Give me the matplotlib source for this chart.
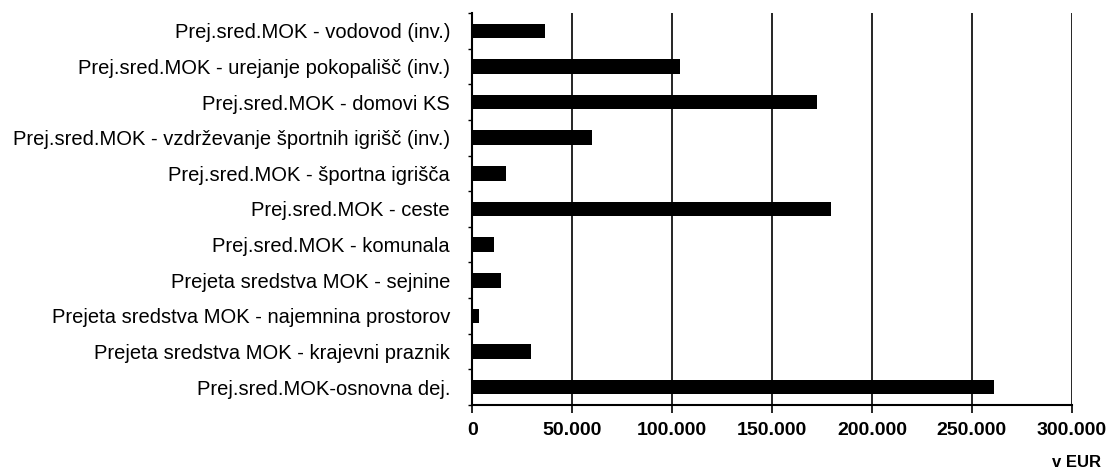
import matplotlib
matplotlib.use("Agg")
import matplotlib.pyplot as plt
from matplotlib.ticker import FuncFormatter, FixedLocator
import numpy as np

categories = [
    "Prej.sred.MOK - vodovod (inv.)",
    "Prej.sred.MOK - urejanje pokopališč (inv.)",
    "Prej.sred.MOK - domovi KS",
    "Prej.sred.MOK - vzdrževanje športnih igrišč (inv.)",
    "Prej.sred.MOK - športna igrišča",
    "Prej.sred.MOK - ceste",
    "Prej.sred.MOK - komunala",
    "Prejeta sredstva MOK - sejnine",
    "Prejeta sredstva MOK - najemnina prostorov",
    "Prejeta sredstva MOK - krajevni praznik",
    "Prej.sred.MOK-osnovna dej.",
]
values = [36600, 104000, 172500, 60000, 16900, 179500, 11000, 14500, 3400, 29500, 261000]
xticks = [0, 50000, 100000, 150000, 200000, 250000, 300000]
unit_label = "v EUR"

plt.rcParams['font.family'] = ['Liberation Sans', 'DejaVu Sans']

fig = plt.figure(figsize=(11.11, 4.73), dpi=100)
ax = fig.add_axes([0.4251, 0.1438, 0.5395, 0.8287])

y = np.arange(len(categories))
ax.barh(y, values, height=0.41, color="black", zorder=3)
ax.set_ylim(len(categories) - 0.5, -0.5)
ax.set_xlim(0, 300000)

ax.set_xticks(xticks)
ax.xaxis.set_major_formatter(FuncFormatter(lambda v, p: f"{int(v):,}".replace(",", ".")))
for lab in ax.get_xticklabels():
    lab.set_fontweight("bold")
ax.tick_params(axis="x", labelsize=14, length=6, width=1.2, pad=6, direction="out")

ax.set_yticks(y)
ax.set_yticklabels(categories, fontsize=14.5)
ax.tick_params(axis="y", length=0, pad=16)
ax.yaxis.set_minor_locator(FixedLocator(np.arange(-0.5, len(categories), 1.0)))
ax.tick_params(axis="y", which="minor", length=3, width=1, direction="out")

ax.grid(axis="x", color="black", linewidth=1.2, zorder=1)
for s in ["top", "right"]:
    ax.spines[s].set_visible(False)
ax.spines["left"].set_linewidth(1.5)
ax.spines["bottom"].set_linewidth(1.5)

fig.text(1101 / 1111, 1 - 462 / 473, unit_label, ha="right", va="center",
         fontsize=12, fontweight="bold")

fig.savefig("out.png", dpi=100)
